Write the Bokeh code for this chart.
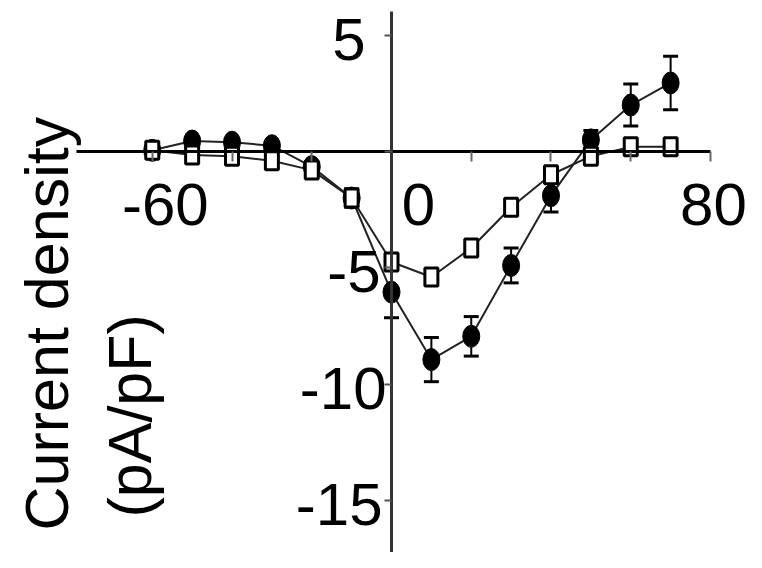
import numpy as np
from bokeh.plotting import figure
from bokeh.models import Range1d, FixedTicker, ColumnDataSource, Whisker, TeeHead, Label
from bokeh.core.properties import value
from bokeh.embed import file_html
from bokeh.resources import INLINE

# ---- data ----
voltage = [-60, -50, -40, -30, -20, -10, 0, 10, 20, 30, 40, 50, 60, 70]
filled_mean = [0.05, 0.45, 0.4, 0.25, -0.65, -2.0, -6.05, -8.95, -7.95, -4.9, -1.9, 0.5, 2.0, 2.95]
filled_err = [0.1, 0.15, 0.15, 0.15, 0.2, 0.4, 1.1, 0.95, 0.85, 0.75, 0.7, 0.4, 0.9, 1.15]
open_mean = [0.05, -0.15, -0.2, -0.4, -0.8, -2.0, -4.75, -5.4, -4.15, -2.4, -1.0, -0.2, 0.2, 0.2]

x_ticks = [-60, -40, -20, 0, 20, 40, 60, 80]
x_label_values = [-60, 0, 80]
x_label_text = ["-60", "0", "80"]
y_ticks = [5, 0, -5, -10, -15]
y_label_values = [5, -5, -10, -15]
y_label_text = ["5", "-5", "-10", "-15"]
y_title_lines = ["Current density", "(pA/pF)"]

# ---- layout / style ----
W, H = 746, 552
FONT = "Liberation Sans"
FS = "60px"
X_NUDGE = [13, 27, 3]
Y_NUDGE = [-26, -11, -5, -9]
X_LABEL_DROP = 53
Y_LABEL_DROP = 4

p = figure(width=W, height=H, output_backend="svg", toolbar_location=None,
           x_range=Range1d(-98.06, 89.03), y_range=Range1d(-17.247, 6.495),
           min_border=0, min_border_left=0, min_border_right=0,
           min_border_top=0, min_border_bottom=0)
p.outline_line_color = None
p.grid.visible = False
p.background_fill_color = "white"
p.border_fill_color = "white"

p.xaxis.fixed_location = 0
p.yaxis.fixed_location = 0
p.xaxis.bounds = (-79, 80)
p.yaxis.bounds = (-17.3, 6.02)
p.xaxis.ticker = FixedTicker(ticks=x_ticks)
p.yaxis.ticker = FixedTicker(ticks=y_ticks)
for ax in (p.xaxis, p.yaxis):
    ax.major_label_text_color = None
    ax.minor_tick_line_color = None
    ax.major_tick_in = 0
    ax.major_tick_line_width = 2
    ax.axis_line_width = 3
p.xaxis.axis_line_color = "black"
p.yaxis.axis_line_color = "#333333"
p.xaxis.major_tick_out = 10
p.yaxis.major_tick_out = 7
p.xaxis.major_tick_line_color = "#666666"
p.yaxis.major_tick_line_color = "#555555"

src = ColumnDataSource(dict(
    v=voltage, f=filled_mean, o=open_mean,
    up=[m + e for m, e in zip(filled_mean, filled_err)],
    lo=[m - e for m, e in zip(filled_mean, filled_err)],
))

p.line("v", "f", source=src, line_color="#222222", line_width=2)
p.line("v", "o", source=src, line_color="#222222", line_width=2)

wh = Whisker(source=src, base="v", upper="up", lower="lo", dimension="height",
             line_color="black", line_width=2,
             upper_head=TeeHead(size=15, line_width=3, line_color="black"),
             lower_head=TeeHead(size=15, line_width=3, line_color="black"))
p.add_layout(wh)

p.ellipse("v", "f", source=src, width=17, height=22, width_units="screen",
          height_units="screen", fill_color="black", line_color="black")
p.rect("v", "o", source=src, width=13, height=18, width_units="screen",
       height_units="screen", fill_color="white", line_color="black", line_width=3)

for v, t, dx in zip(x_label_values, x_label_text, X_NUDGE):
    p.text(x=[v], y=[0], text=[t], x_offset=dx, y_offset=X_LABEL_DROP,
           text_font=value(FONT), text_font_size=FS, text_align="center",
           text_baseline="alphabetic", text_color="black")
for v, t, dx in zip(y_label_values, y_label_text, Y_NUDGE):
    p.text(x=[0], y=[v], text=[t], x_offset=dx, y_offset=Y_LABEL_DROP,
           text_font=value(FONT), text_font_size=FS, text_align="right",
           text_baseline="alphabetic", text_color="black")

for t, sx, sy in zip(y_title_lines, [46, 129], [22, 35]):
    p.add_layout(Label(x=sx, y=sy, x_units="screen", y_units="screen", text=t,
                       angle=np.pi / 2, text_font=FONT, text_font_size="61px",
                       text_align="left", text_baseline="alphabetic",
                       text_color="black"))

open("out.html", "w").write(file_html(p, INLINE))
